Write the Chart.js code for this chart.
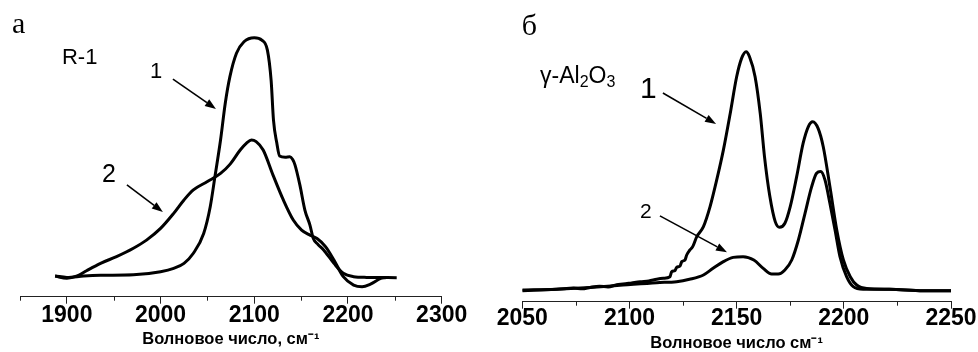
<!DOCTYPE html>
<html><head><meta charset="utf-8">
<script src="https://cdn.jsdelivr.net/npm/chart.js@4.4.0/dist/chart.umd.min.js"></script>
<style>
html,body{margin:0;padding:0;background:#fff;overflow:hidden}
#wrap{position:relative;width:978px;height:352px}
canvas{position:absolute;top:0}
</style>
</head><body>
<div id="wrap">
<canvas id="cL" width="489" height="352" style="left:0"></canvas>
<canvas id="cR" width="489" height="352" style="left:489px"></canvas>
</div>
<script>
// ---------- Panel а (R-1) ----------
const LEFT_X1 = [1887.5,1900,1918,1936,1971,2000,2014,2025,2035,2046,2053,2058,2064,2069,2074,2081,2089,2100,2108,2114,2118,2120.5,2124,2127,2133,2138,2141,2143.5,2148.7,2154,2159.4,2163,2168,2174,2185,2195,2206,2220,2252];
const LEFT_Y1 = [0.003,-0.003,0.003,0.006,0.008,0.021,0.035,0.056,0.098,0.181,0.293,0.418,0.572,0.725,0.837,0.935,0.983,1.0,0.990,0.948,0.82,0.655,0.56,0.505,0.500,0.502,0.49,0.467,0.383,0.279,0.216,0.16,0.135,0.112,0.056,0.014,0.0,-0.003,-0.004];
const LEFT_X2 = [1887.5,1900,1911,1921,1936,1953,1971,1985,2000,2014,2025,2035,2050,2064,2074,2085,2092,2097,2102,2109.5,2120,2131,2141.6,2150.5,2159.4,2167,2176,2185,2195,2206,2215,2224,2235,2240];
const LEFT_Y2 = [0.003,-0.007,0.003,0.025,0.056,0.084,0.119,0.153,0.202,0.265,0.321,0.363,0.398,0.432,0.470,0.530,0.560,0.572,0.565,0.530,0.425,0.321,0.237,0.195,0.174,0.160,0.126,0.070,0.0,-0.035,-0.042,-0.031,-0.007,-0.004];
const LEFT_TICKS = {min:1850, max:2300, step:50, labelEvery:100};

// ---------- Panel б (γ-Al2O3) ----------
const RIGHT_X1 = [2050,2066,2074,2078,2081.6,2086,2090,2094,2097,2101,2105,2109,2112.7,2115.8,2118.9,2119.7,2121.2,2122,2123.6,2124.4,2125.9,2126.7,2128.2,2129.5,2131.4,2134.5,2137.6,2140.7,2143.8,2147,2150,2152.3,2154.4,2156,2158.6,2161,2163,2165.5,2168,2170,2172.5,2175,2178,2181,2183.4,2185.5,2188,2190.4,2193.5,2196.7,2199.8,2203,2206,2210.7,2221.5,2237,2250];
const RIGHT_Y1 = [0,0.003,0.008,0.005,0.011,0.016,0.013,0.022,0.025,0.030,0.035,0.038,0.045,0.049,0.056,0.077,0.081,0.095,0.101,0.119,0.126,0.147,0.168,0.182,0.224,0.266,0.350,0.462,0.587,0.741,0.895,0.972,1.0,0.979,0.895,0.741,0.559,0.392,0.287,0.263,0.280,0.350,0.476,0.615,0.685,0.706,0.678,0.601,0.434,0.252,0.126,0.056,0.021,0.006,0.003,-0.003,-0.003];
const RIGHT_X2 = [2050,2066,2081.6,2097,2112.7,2122,2128,2134.5,2139,2143.8,2148.4,2153,2158,2162.4,2166.3,2169.4,2172.5,2175.7,2178.8,2181.9,2185,2187.3,2189.2,2191.2,2193.5,2195.9,2198.2,2201.3,2204.4,2209,2221,2237,2250];
const RIGHT_Y2 = [-0.003,0.003,0.011,0.021,0.031,0.035,0.045,0.063,0.091,0.119,0.137,0.140,0.126,0.091,0.067,0.067,0.084,0.126,0.210,0.322,0.434,0.490,0.497,0.462,0.364,0.252,0.140,0.056,0.014,0.003,0.003,-0.003,-0.003];
const RIGHT_TICKS = {min:2050, max:2250, step:25, labelEvery:50};

// ---------- Text labels ----------
const LEFT_TITLE = 'Волновое число, см⁻¹';
const RIGHT_TITLE = 'Волновое число см⁻¹';
const LEFT_NOTES = {
  texts: [
    {parts:[{t:'а'}], x:1841.5, y:1.02, font:'30px "Liberation Serif"'},
    {parts:[{t:'R-1'}], x:1894.8, y:0.89, font:'22px "Liberation Sans"'},
    {parts:[{t:'1'}], x:1988.7, y:0.831, font:'22px "Liberation Sans"'},
    {parts:[{t:'2'}], x:1937.5, y:0.396, font:'25px "Liberation Sans"'}
  ],
  arrows: [
    {x1:2013.2, y1:0.827, x2:2059.1, y2:0.702},
    {x1:1964.1, y1:0.384, x2:2002.5, y2:0.271}
  ]
};
const RIGHT_NOTES = {
  texts: [
    {parts:[{t:'б'}], x:2049.7, y:1.07, font:'30px "Liberation Serif"'},
    {parts:[{t:'γ-Al'},{t:'2',sub:true},{t:'O'},{t:'3',sub:true}], x:2058.3, y:0.867, font:'23px "Liberation Sans"', subFont:'16px "Liberation Sans"'},
    {parts:[{t:'1'}], x:2104.9, y:0.806, font:'30px "Liberation Sans"'},
    {parts:[{t:'2'}], x:2104.9, y:0.302, font:'21px "Liberation Sans"'}
  ],
  arrows: [
    {x1:2115.6, y1:0.827, x2:2140.4, y2:0.697},
    {x1:2114.2, y1:0.311, x2:2145.5, y2:0.159}
  ]
};

const notesPlugin = {
  id: 'notes',
  afterDatasetsDraw(chart, args, opts) {
    const ctx = chart.ctx, xs = chart.scales.x, ys = chart.scales.y;
    ctx.save();
    ctx.fillStyle = '#000'; ctx.strokeStyle = '#000';
    ctx.textBaseline = 'alphabetic'; ctx.textAlign = 'left';
    (opts.texts || []).forEach(n => {
      let px = xs.getPixelForValue(n.x);
      const py = ys.getPixelForValue(n.y);
      n.parts.forEach(p => {
        ctx.font = p.sub ? n.subFont : n.font;
        ctx.fillText(p.t, px, py + (p.sub ? 4 : 0));
        px += ctx.measureText(p.t).width;
      });
    });
    (opts.arrows || []).forEach(a => {
      const x1 = xs.getPixelForValue(a.x1), y1 = ys.getPixelForValue(a.y1);
      const x2 = xs.getPixelForValue(a.x2), y2 = ys.getPixelForValue(a.y2);
      const ang = Math.atan2(y2 - y1, x2 - x1), L = 11, W = 4;
      const bx = x2 - L * Math.cos(ang), by = y2 - L * Math.sin(ang);
      ctx.lineWidth = 1.6;
      ctx.beginPath(); ctx.moveTo(x1, y1); ctx.lineTo(bx, by); ctx.stroke();
      ctx.beginPath();
      ctx.moveTo(x2, y2);
      ctx.lineTo(bx + W * Math.sin(ang), by - W * Math.cos(ang));
      ctx.lineTo(bx - W * Math.sin(ang), by + W * Math.cos(ang));
      ctx.closePath(); ctx.fill();
    });
    // minor ticks (shorter), placed through the x scale
    ctx.lineWidth = 1; ctx.strokeStyle = '#222';
    xs.ticks.forEach(t => {
      if (Math.round(t.value) % opts.labelEvery !== 0) {
        const px = Math.round(xs.getPixelForValue(t.value)) + 0.5;
        ctx.beginPath(); ctx.moveTo(px, xs.top); ctx.lineTo(px, xs.top + 4); ctx.stroke();
      }
    });
    ctx.restore();
  }
};

function pts(xs, ys) { return xs.map((x, i) => ({x: x, y: ys[i]})); }

function makeChart(id, d1, d2, tk, ymin, ymax, title, notes, pad, axisH, tickPad, titlePadB) {
  notes.labelEvery = tk.labelEvery;
  return new Chart(document.getElementById(id), {
    type: 'line',
    data: { datasets: [
      { label: '1', data: d1, borderColor: '#000', borderWidth: 3, pointRadius: 0, cubicInterpolationMode: 'monotone', fill: false },
      { label: '2', data: d2, borderColor: '#000', borderWidth: 3, pointRadius: 0, cubicInterpolationMode: 'monotone', fill: false }
    ]},
    options: {
      responsive: false, animation: false, devicePixelRatio: 1,
      layout: { padding: pad },
      plugins: { legend: { display: false }, tooltip: { enabled: false }, notes: notes },
      scales: {
        x: {
          type: 'linear', min: tk.min, max: tk.max,
          afterFit: s => { s.height = axisH; },
          border: { display: true, color: '#222', width: 1 },
          grid: { drawOnChartArea: false, drawTicks: true, tickLength: 7,
                  tickColor: c => (c.tick && Math.round(c.tick.value) % tk.labelEvery === 0 ? '#222' : 'rgba(0,0,0,0)') },
          ticks: {
            stepSize: tk.step, autoSkip: false, maxRotation: 0, padding: tickPad, color: '#000',
            font: { family: '"Liberation Sans", Arial, sans-serif', size: 23, weight: 'bold', lineHeight: 1 },
            callback: v => (Math.round(v) % tk.labelEvery === 0 ? String(Math.round(v)) : '')
          },
          title: { display: true, text: title, color: '#000', padding: { top: 0, bottom: titlePadB },
            font: { family: '"Liberation Sans", Arial, sans-serif', size: 16.5, weight: 'bold', lineHeight: 1 } }
        },
        y: { display: false, min: ymin, max: ymax }
      }
    },
    plugins: [notesPlugin]
  });
}

makeChart('cL', pts(LEFT_X1, LEFT_Y1), pts(LEFT_X2, LEFT_Y2), LEFT_TICKS, -0.0837, 1.1159,
  LEFT_TITLE, LEFT_NOTES, {left: 20, right: 47.3, top: 10, bottom: 0}, 55.3, 0.5, 4.75);
makeChart('cR', pts(RIGHT_X1, RIGHT_Y1), pts(RIGHT_X2, RIGHT_Y2), RIGHT_TICKS, -0.049, 1.175,
  RIGHT_TITLE, RIGHT_NOTES, {left: 33.3, right: 27, top: 10, bottom: 0}, 50.3, -2, 0.25);
</script>
</body></html>
